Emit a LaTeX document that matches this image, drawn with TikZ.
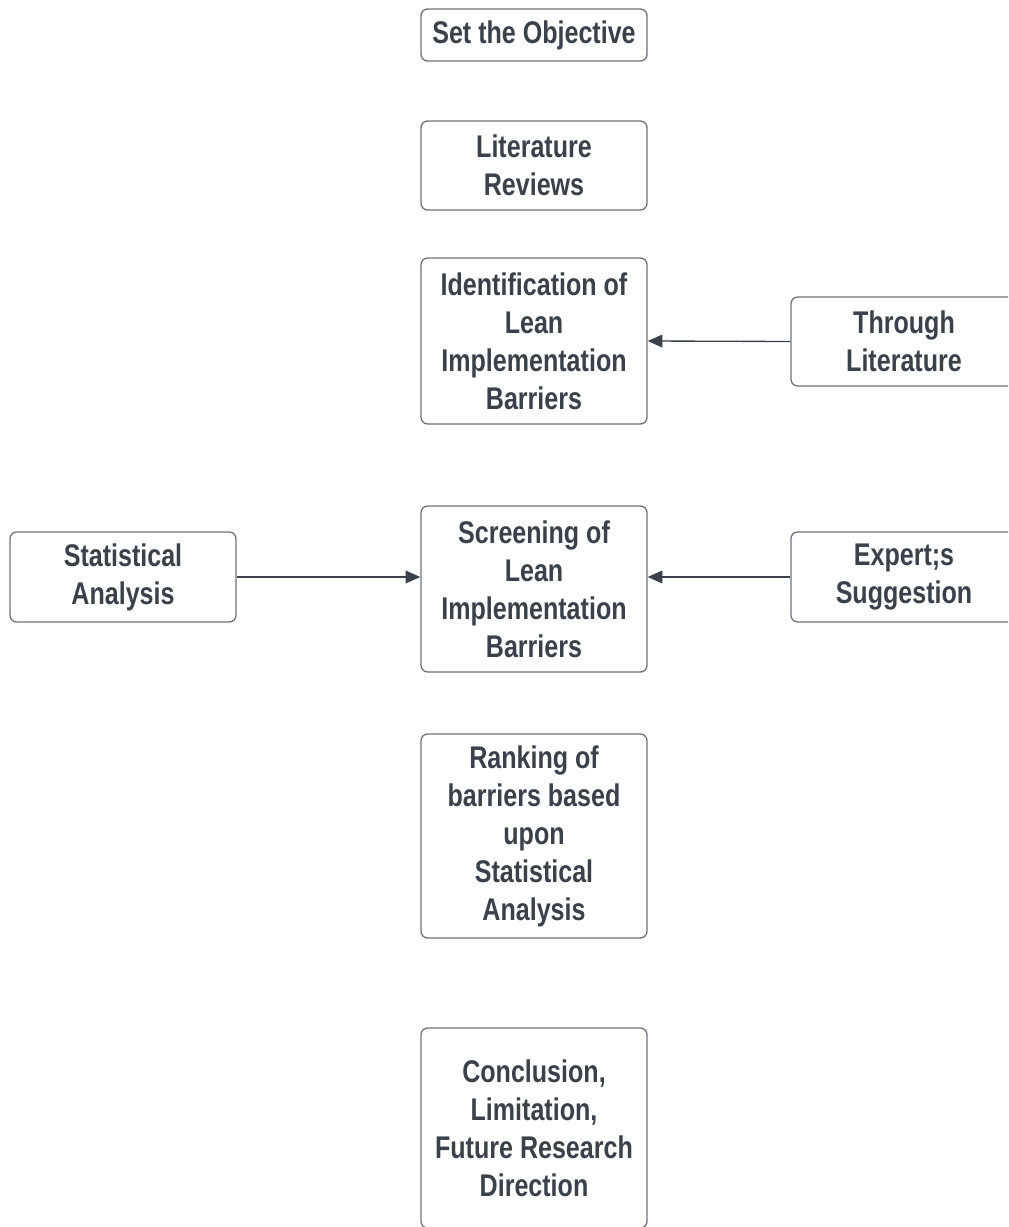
\documentclass[tikz,border=0pt]{standalone}
\usepackage{fontspec}
\setmainfont{Liberation Sans}[FakeStretch=0.8]
\usetikzlibrary{arrows.meta}
\definecolor{txt}{HTML}{3A414A}
\definecolor{bord}{HTML}{6E7379}
\tikzset{
  box/.style={draw=bord, line width=1pt, rounded corners=5pt, fill=white,
    minimum width=226*0.75pt, inner sep=0pt, align=center,
    font=\bfseries\fontsize{23.5}{28.5}\selectfont, text=txt},
  conn/.style={draw=txt, line width=1pt, -{Triangle[length=11pt,width=9.5pt]}}
}
\begin{document}
\begin{tikzpicture}[x=0.75pt,y=-0.75pt]
\useasboundingbox (0,0) rectangle (1008,1227);
\clip (0,0) rectangle (1008,1227);
\node[box, minimum height=52*0.75pt] (obj) at (534,35) {Set the Objective};
\node[box, minimum height=89*0.75pt] (lit) at (534,165.5) {Literature\\Reviews};
\node[box, minimum height=166*0.75pt] (ident) at (534,341) {Identification of\\Lean\\Implementation\\Barriers};
\node[box, minimum height=89*0.75pt] (thr) at (904,341.5) {Through\\Literature};
\node[box, minimum height=90*0.75pt] (stat) at (123,577) {Statistical\\Analysis};
\node[box, minimum height=166*0.75pt] (scr) at (534,589) {Screening of\\Lean\\Implementation\\Barriers};
\node[box, minimum height=90*0.75pt] (exp) at (904,577) {Expert;s\\Suggestion};
\node[box, minimum height=204*0.75pt] (rank) at (534,836) {Ranking of\\barriers based\\upon\\Statistical\\Analysis};
\node[box, minimum height=200*0.75pt] (conc) at (534,1128) {Conclusion,\\Limitation,\\Future Research\\Direction};
\draw[conn] (thr.west) -- (ident.east);
\draw[conn] (stat.east) -- (stat.east -| scr.west);
\draw[conn] (exp.west) -- (exp.west -| scr.east);
\end{tikzpicture}
\end{document}
